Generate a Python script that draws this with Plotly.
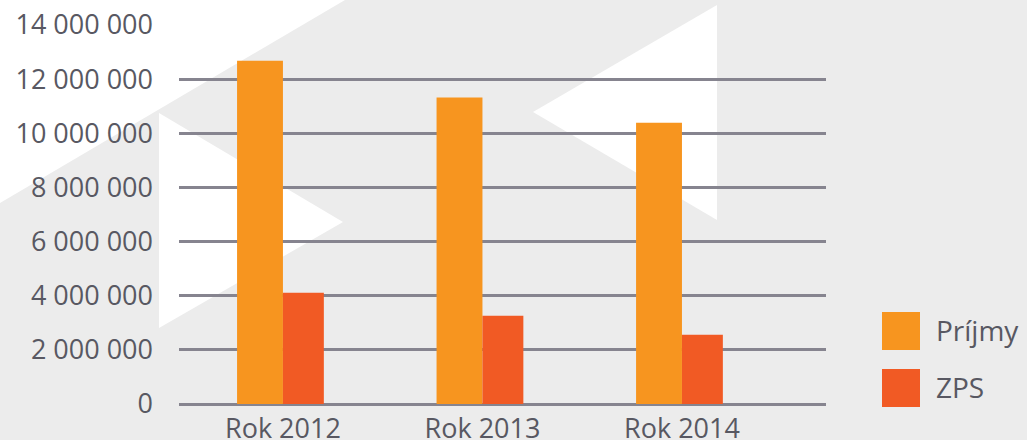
import plotly.graph_objects as go

categories = ["Rok 2012", "Rok 2013", "Rok 2014"]
prijmy = [12680000, 11320000, 10390000]
zps = [4110000, 3260000, 2560000]
series_names = ["Príjmy", "ZPS"]
y_tickvals = [0, 2000000, 4000000, 6000000, 8000000, 10000000, 12000000, 14000000]

W, H = 1027, 440
L, R, T, B = 179, 826, 25, 404  # plot area in pixels

ORANGE = "#F7951F"
RED = "#F15A24"
GRID = "#86848F"
TEXT = "#585862"
BG = "#ECECEC"
FONT = "Open Sans"


def px(x):
    return (x - L) / (R - L)


def py(y):
    return (B - y) / (B - T)


def path(points):
    return "M " + " L ".join(f"{px(x):.4f},{py(y):.4f}" for x, y in points) + " Z"


fig = go.Figure()
fig.add_trace(go.Bar(x=categories, y=prijmy, name=series_names[0], marker_color=ORANGE,
                     marker_line_width=0, width=0.23, offset=-0.23))
fig.add_trace(go.Bar(x=categories, y=zps, name=series_names[1], marker_color=RED,
                     marker_line_width=0, width=0.205, offset=0))

shapes = []
# background watermark triangles
for pts in [
    [(0, 0), (345, 0), (0, 203)],
    [(159, 113), (343, 222), (159, 328)],
    [(533, 112), (717, 5), (717, 220)],
]:
    shapes.append(dict(type="path", xref="paper", yref="paper", path=path(pts),
                       fillcolor="white", line_width=0, layer="below"))
# legend squares
for (y0, y1), c in zip([(312, 350), (369, 407)], [ORANGE, RED]):
    shapes.append(dict(type="rect", xref="paper", yref="paper",
                       x0=px(882), x1=px(920), y0=py(y1), y1=py(y0),
                       fillcolor=c, line_width=0))

annotations = []
for name, yc in zip(series_names, [330, 387]):
    annotations.append(dict(xref="paper", yref="paper", x=px(934), y=py(yc),
                            xanchor="left", yanchor="middle", showarrow=False,
                            text=name, font=dict(family=FONT, size=28, color=TEXT)))

fig.update_layout(
    width=W, height=H,
    margin=dict(l=L, r=W - R, t=T, b=H - B, pad=0),
    paper_bgcolor=BG, plot_bgcolor="rgba(0,0,0,0)",
    showlegend=False,
    barmode="group",
    separators=", ",
    font=dict(family=FONT, size=27, color=TEXT),
    shapes=shapes, annotations=annotations,
    xaxis=dict(range=[-0.521, 2.722], showgrid=False, showline=False, zeroline=False,
               ticks="", automargin=False, tickfont=dict(size=27, color=TEXT),
               ticklabelstandoff=6),
    yaxis=dict(range=[0, 14000000], tickvals=y_tickvals, tickformat=",d",
               showgrid=True, gridcolor=GRID, gridwidth=3,
               zeroline=True, zerolinecolor=GRID, zerolinewidth=3,
               showline=False, ticks="", automargin=False,
               ticklabelstandoff=25, tickfont=dict(size=27, color=TEXT)),
)

fig.write_html("out.html")
